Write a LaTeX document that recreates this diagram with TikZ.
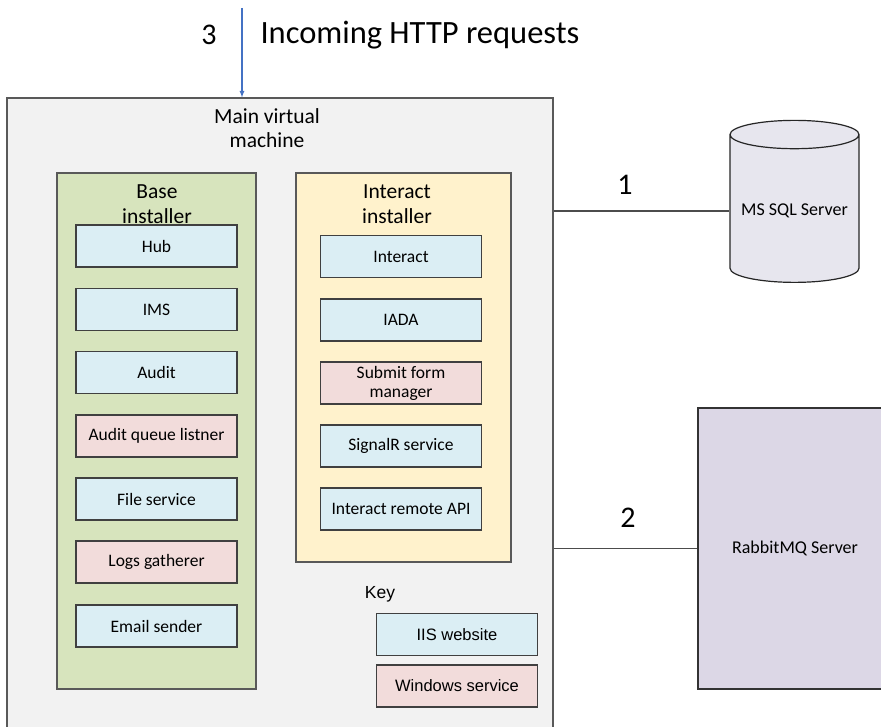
\documentclass[tikz,border=0pt]{standalone}
\usepackage{fontspec}
\setmainfont{Carlito}
\newfontfamily\keyfont{Liberation Sans}
\usetikzlibrary{shapes.geometric}
\definecolor{vmgray}{HTML}{F2F2F2}
\definecolor{basegreen}{HTML}{D7E4BD}
\definecolor{interyellow}{HTML}{FFF2CC}
\definecolor{iisblue}{HTML}{DBEEF4}
\definecolor{winpink}{HTML}{F2DCDB}
\definecolor{sqlgray}{HTML}{E7E6EE}
\definecolor{rabbitlilac}{HTML}{DCD7E6}
\definecolor{arrowblue}{HTML}{4472C4}
\begin{document}
\begin{tikzpicture}[x=1pt,y=-1pt,
    outer/.style={draw=black!65,line width=1.2pt,inner sep=0pt},
    svc/.style={draw=black!75,line width=1.2pt,inner sep=0pt,minimum width=161pt,minimum height=42pt,font=\fontsize{17.5}{19}\selectfont,align=center},
    iis/.style={svc,fill=iisblue},
    win/.style={svc,fill=winpink},
    boxtitle/.style={font=\fontsize{21.5}{24.5}\selectfont,align=center},
    bignum/.style={font=\fontsize{30}{32}\selectfont},
    link/.style={draw=black!70,line width=1.2pt}]
    \useasboundingbox (0,0) rectangle (881,727);
    % Draw containers
    \node[outer,fill=vmgray,minimum width=546pt,minimum height=662pt] (vm) at (280,429) {};
    \node[boxtitle] (vmtitle) at (267,128) {Main virtual\\machine};
    \node[outer,fill=basegreen,minimum width=199pt,minimum height=516pt] (base) at (156.5,431) {};
    \node[boxtitle] (basetitle) at (157,204) {Base\\installer};
    \node[outer,fill=interyellow,minimum width=215pt,minimum height=389pt] (inter) at (403.5,367.5) {};
    \node[boxtitle] (intertitle) at (397,204) {Interact\\installer};
    % Base installer services
    \node[iis] (hub) at (156.5,246) {Hub};
    \node[iis] (ims) at (156.5,309.5) {IMS};
    \node[iis] (audit) at (156.5,372.5) {Audit};
    \node[win] (auditq) at (156.5,436) {Audit queue listner};
    \node[iis] (files) at (156.5,499) {File service};
    \node[win] (logs) at (156.5,562) {Logs gatherer};
    \node[iis] (email) at (156.5,626) {Email sender};
    % Interact installer services
    \node[iis] (interact) at (401,256.5) {Interact};
    \node[iis] (iada) at (401,320) {IADA};
    \node[win] (submit) at (401,383) {Submit form\\manager};
    \node[iis] (signalr) at (401,446) {SignalR service};
    \node[iis] (remote) at (401,509) {Interact remote API};
    % Key
    \node[font=\keyfont\fontsize{17.5}{19}\selectfont] (key) at (380,594) {Key};
    \node[iis,font=\keyfont\fontsize{16.5}{19}\selectfont] (keyiis) at (457,634.5) {IIS website};
    \node[win,font=\keyfont\fontsize{16.5}{19}\selectfont] (keywin) at (457,686) {Windows service};
    % External servers
    \node[cylinder,shape border rotate=90,draw=black!85,line width=1.2pt,fill=sqlgray,aspect=0.25,minimum height=162pt,minimum width=129pt,font=\fontsize{18}{20}\selectfont] (sql) at (794.5,211) {MS SQL Server};
    \node[outer,draw=black!80,fill=rabbitlilac,minimum width=194pt,minimum height=281pt,font=\fontsize{18}{20}\selectfont] (rabbit) at (795,548.5) {RabbitMQ Server};
    % Connections
    \coordinate (http) at (242,8);
    \draw[arrowblue,line width=1.2pt,-latex] (http) -- (http |- vm.north);
    \node[bignum] (three) at (209,35) {3};
    \node[font=\fontsize{32.5}{34}\selectfont,anchor=west] (httplabel) at (257,35) {Incoming HTTP requests};
    \draw[link] (vm.east |- sql.west) -- (sql.west);
    \node[bignum] (one) at (625,185) {1};
    \draw[link] (vm.east |- rabbit.west) -- (rabbit.west);
    \node[bignum] (two) at (628,518) {2};
\end{tikzpicture}
\end{document}
